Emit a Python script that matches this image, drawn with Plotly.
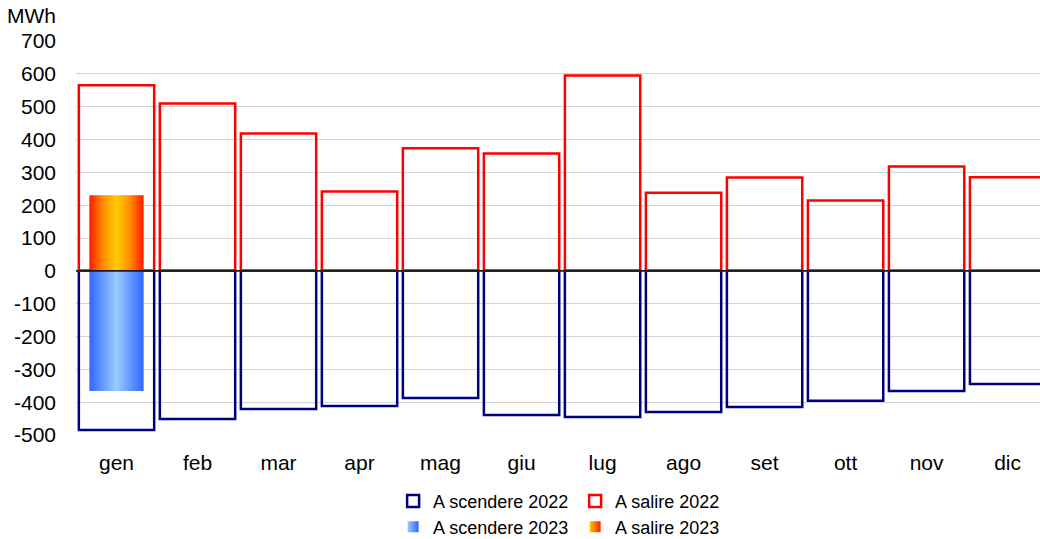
import plotly.graph_objects as go

# Monthly balancing energy (MWh)
months = ["gen", "feb", "mar", "apr", "mag", "giu", "lug", "ago", "set", "ott", "nov", "dic"]
salire_2022 = [565, 510, 418, 242, 373, 357, 595, 238, 284, 214, 318, 285]
scendere_2022 = [-485, -451, -421, -412, -387, -439, -445, -430, -415, -396, -366, -345]
salire_2023 = [230, None, None, None, None, None, None, None, None, None, None, None]
scendere_2023 = [-366, None, None, None, None, None, None, None, None, None, None, None]

y_ticks = [-500, -400, -300, -200, -100, 0, 100, 200, 300, 400, 500, 600, 700]
y_tick_text = [str(v) for v in y_ticks]  # plain hyphen for negatives

FONT = "Liberation Sans, Arial, sans-serif"
NAVY = "#00007f"
RED = "#ff0000"
BAR_W = 0.93
BAR_W_2023 = 0.67

xs = list(range(len(months)))
fig = go.Figure()

fig.add_trace(go.Bar(
    x=xs, y=scendere_2022, width=BAR_W, name="A scendere 2022",
    marker=dict(color="rgba(0,0,0,0)", line=dict(color=NAVY, width=2.5)),
    legend="legend",
))
fig.add_trace(go.Bar(
    x=xs, y=salire_2022, width=BAR_W, name="A salire 2022",
    marker=dict(color="rgba(0,0,0,0)", line=dict(color=RED, width=2.5)),
    legend="legend",
))


def gradient_bars(values, name, scale, edge, centre):
    """Gradient-filled bars drawn as closed filled shapes, plus a legend swatch."""
    for i, v in enumerate(values):
        if v is None:
            continue
        x0, x1 = i - BAR_W_2023 / 2, i + BAR_W_2023 / 2
        fig.add_trace(go.Scatter(
            x=[x0, x1, x1, x0, x0], y=[0, 0, v, v, 0],
            mode="lines", line=dict(width=0), fill="toself",
            fillgradient=dict(type="horizontal", colorscale=scale),
            name=name, showlegend=False, legend="legend2", hoverinfo="skip",
        ))
    # legend entry: small square with a horizontal edge-to-centre gradient
    fig.add_trace(go.Scatter(
        x=[None], y=[None], mode="markers", name=name,
        legend="legend2",
        marker=dict(symbol="square", size=11, color=centre,
                    line=dict(width=0),
                    gradient=dict(type="horizontal", color=edge)),
    ))


gradient_bars(scendere_2023, "A scendere 2023",
              [[0, "#3366ff"], [0.5, "#99ccff"], [1, "#3366ff"]],
              "#3366ff", "#99ccff")
gradient_bars(salire_2023, "A salire 2023",
              [[0, "#ff1a00"], [0.25, "#ff8c00"], [0.5, "#ffcc00"], [0.75, "#ff8c00"], [1, "#ff1a00"]],
              "#ff1a00", "#ffcc00")

# zero line drawn over the bars
fig.add_shape(type="line", xref="paper", yref="y", x0=0, x1=1, y0=0, y1=0,
              line=dict(color="#1a1a1a", width=1.6), layer="above")

fig.add_annotation(text="MWh", xref="paper", yref="paper", x=-0.074, y=1.0,
                   xanchor="left", yanchor="bottom", yshift=12, showarrow=False,
                   font=dict(size=21, color="#000000", family=FONT))

legend_common = dict(
    orientation="h", xref="container", yref="container",
    xanchor="left", yanchor="middle", entrywidth=137,
    font=dict(size=18, color="#000000", family=FONT),
    bgcolor="rgba(0,0,0,0)", tracegroupgap=0, itemwidth=30,
    traceorder="normal",
)

fig.update_layout(
    width=1040, height=539,
    margin=dict(l=76, r=0, t=41, b=104),
    paper_bgcolor="white", plot_bgcolor="white",
    barmode="overlay", showlegend=True,
    font=dict(family=FONT, size=21, color="#000000"),
    legend=dict(x=0.378, y=0.07, **legend_common),
    legend2=dict(x=0.378, y=0.022, **legend_common),
    xaxis=dict(
        range=[-0.5, 11.4], tickmode="array", tickvals=xs, ticktext=months,
        showgrid=False, zeroline=False, showline=False, ticks="",
        ticklabelstandoff=13, tickfont=dict(size=21, family=FONT),
    ),
    yaxis=dict(
        range=[-500, 700], tickmode="array", tickvals=y_ticks, ticktext=y_tick_text,
        showgrid=True, gridcolor="#d4d4d4", gridwidth=1.2,
        zeroline=False, showline=False, ticks="",
        ticklabelstandoff=19, tickfont=dict(size=21, family=FONT),
    ),
)

fig.write_html("out.html")
